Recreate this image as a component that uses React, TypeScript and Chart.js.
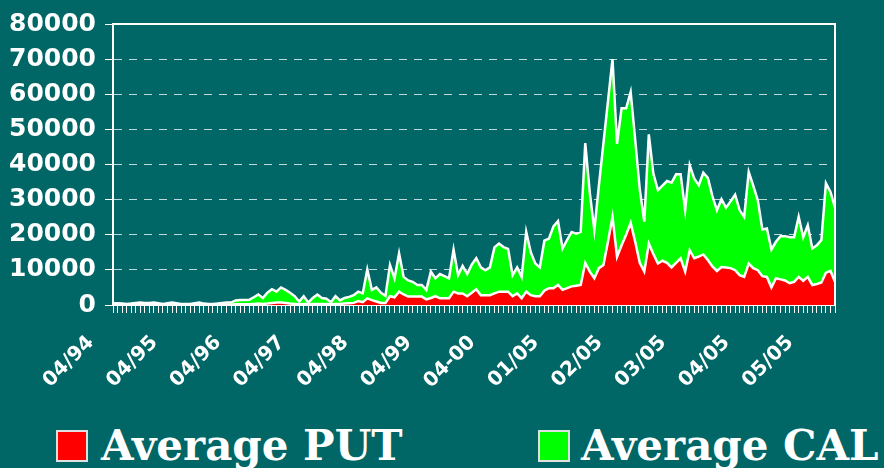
import React, { useEffect, useRef } from 'react';
import { Chart, registerables } from 'chart.js';

Chart.register(...registerables);

// Tick labels shown every LABEL_EVERY categories
const tickLabels = ['04/94', '04/95', '04/96', '04/97', '04/98', '04/99', '04-00', '01/05', '02/05', '03/05', '04/05', '05/05'];
const LABEL_EVERY = 14;

const seriesNames = ['Average PUT', 'Average CAL'];

// Average PUT (bottom, red)
const putValues = [
  100, 100, 100, 100, 100, 100, 100, 100, 100, 100,
  100, 100, 100, 100, 100, 100, 100, 100, 100, 100,
  100, 100, 100, 100, 100, 100, 100, 200, 200, 200,
  200, 300, 400, 300, 400, 600, 700, 700, 600, 400,
  300, 200, 300, 200, 300, 300, 300, 300, 200, 300,
  300, 400, 500, 600, 1100, 800, 1900, 1400, 1000, 600,
  600, 2500, 2200, 3800, 3000, 2400, 2400, 2400, 2400, 1600,
  2000, 2500, 1900, 1900, 1900, 3800, 3300, 3300, 2500, 3500,
  4500, 2800, 2800, 2800, 3300, 3800, 3800, 3800, 2500, 3300,
  1900, 3800, 2800, 2500, 2500, 4100, 4800, 4800, 5700, 4300,
  4800, 5300, 5500, 5700, 12000, 9500, 7600, 10500, 11400, 18000,
  25100, 13700, 17000, 20000, 23400, 18000, 12000, 9500, 17500, 14500,
  11800, 12600, 12000, 10700, 12000, 13300, 9500, 15600, 13300, 13800,
  14400, 12800, 11000, 9700, 10800, 10700, 10500, 9900, 8500, 8000,
  11800, 10500, 9900, 8200, 8000, 5000, 7600, 7300, 7000, 6200,
  6600, 8000, 6900, 8000, 5700, 6000, 6400, 9200, 9700, 6600,
];

// Average CALL (stacked on top, green)
const callValues = [
  400, 400, 300, 200, 300, 500, 600, 500, 500, 600,
  400, 200, 400, 600, 400, 200, 200, 200, 400, 600,
  300, 200, 200, 300, 500, 600, 600, 1100, 1200, 1200,
  1300, 1900, 2600, 1700, 3100, 3900, 3100, 4300, 3700, 3100,
  2200, 800, 2200, 500, 1700, 2700, 1700, 1500, 600, 2200,
  1000, 1600, 1800, 2200, 2700, 2500, 8200, 2900, 4000, 2900,
  2000, 8900, 5400, 10900, 5000, 4600, 4200, 3300, 3300, 2700,
  7500, 5100, 6900, 6300, 5700, 12000, 5200, 7800, 6300, 8000,
  8800, 7900, 7100, 7900, 13100, 13700, 12700, 12200, 6000, 7400,
  6100, 17000, 12200, 9300, 8200, 14200, 14100, 17600, 18200, 11800,
  13700, 15500, 14800, 15100, 34100, 22500, 13700, 23500, 34600, 40000,
  44900, 32200, 39000, 36000, 37200, 29000, 21000, 14200, 31100, 22900,
  20900, 21400, 23300, 24100, 25200, 23900, 17500, 24200, 22700, 20300,
  23300, 23400, 20000, 17300, 19300, 17000, 19000, 21500, 18500, 17100,
  26100, 23500, 19900, 13300, 13800, 10800, 10400, 12300, 12600, 13100,
  12700, 17100, 12400, 14700, 10400, 11000, 12100, 25500, 22500, 21100,
];

const categories = putValues.map((_, i) =>
  i % LABEL_EVERY === 0 && tickLabels[i / LABEL_EVERY] ? tickLabels[i / LABEL_EVERY] : ''
);

const Y_MIN = 0;
const Y_MAX = 80000;
const Y_STEP = 10000;

const BG = '#006666';
const PUT_COLOR = '#ff0000';
const CALL_COLOR = '#00ff00';

const plotBorder = {
  id: 'plotBorder',
  afterDraw(chart: any) {
    const { ctx, chartArea: a } = chart;
    ctx.save();
    ctx.strokeStyle = '#ffffff';
    ctx.lineWidth = 2;
    ctx.beginPath();
    ctx.moveTo(a.left, a.top);
    ctx.lineTo(a.right, a.top);
    ctx.lineTo(a.right, a.bottom);
    ctx.stroke();
    ctx.restore();
  },
};

export default function App() {
  const ref = useRef<HTMLCanvasElement | null>(null);

  useEffect(() => {
    if (!ref.current) return;
    const chart = new Chart(ref.current, {
      type: 'line',
      data: {
        labels: categories,
        datasets: [
          {
            label: seriesNames[0],
            data: putValues,
            backgroundColor: PUT_COLOR,
            borderColor: '#ffffff',
            borderWidth: 2.5,
            pointRadius: 0,
            fill: 'origin',
            tension: 0,
          },
          {
            label: seriesNames[1],
            data: callValues,
            backgroundColor: CALL_COLOR,
            borderColor: '#ffffff',
            borderWidth: 2.5,
            pointRadius: 0,
            fill: '-1',
            tension: 0,
          },
        ],
      },
      options: {
        responsive: false,
        animation: false,
        devicePixelRatio: 1,
        layout: { padding: { top: 23, right: 49, left: 0, bottom: 0 } },
        plugins: {
          legend: { display: false },
          tooltip: { enabled: false },
        },
        elements: { line: { borderJoinStyle: 'miter' } },
        scales: {
          x: {
            offset: false,
            afterFit: (s: any) => { s.height = 95; },
            grid: {
              drawOnChartArea: false,
              drawTicks: true,
              tickLength: 8,
              color: '#ffffff',
              lineWidth: 1,
            },
            border: { color: '#ffffff', width: 2 },
            ticks: {
              autoSkip: false,
              maxRotation: 45,
              minRotation: 45,
              color: '#ffffff',
              padding: 18,
              labelOffset: -22,
              font: { family: 'DejaVu Sans', weight: 'bold', size: 20 },
            },
          },
          y: {
            stacked: true,
            min: Y_MIN,
            max: Y_MAX,
            afterFit: (s: any) => { s.width = 113; },
            grid: {
              color: 'rgba(225,238,238,0.85)',
              lineWidth: 1,
              tickLength: 8,
              tickColor: '#ffffff',
              tickBorderDash: [],
            },
            border: { color: '#ffffff', width: 2, dash: [8, 7] },
            ticks: {
              stepSize: Y_STEP,
              color: '#ffffff',
              padding: 9,
              callback: (v: any) => String(v),
              font: { family: 'DejaVu Sans', weight: 'bold', size: 25 },
            },
          },
        },
      },
      plugins: [plotBorder],
    });
    return () => chart.destroy();
  }, []);

  const legendText: React.CSSProperties = {
    position: 'absolute',
    top: 425,
    fontFamily: '"DejaVu Serif", serif',
    fontWeight: 'bold',
    fontSize: 42,
    lineHeight: '42px',
    color: '#ffffff',
    whiteSpace: 'nowrap',
  };
  const box: React.CSSProperties = {
    position: 'absolute',
    top: 430,
    width: 28,
    height: 28,
    border: '2px solid #e0e0e0',
  };

  return (
    <div
      style={{
        position: 'fixed',
        left: 0,
        top: 0,
        width: '100vw',
        height: '100vh',
        overflow: 'hidden',
        background: BG,
      }}
    >
      <canvas ref={ref} width={884} height={400} style={{ position: 'absolute', left: 0, top: 0 }} />
      <div style={{ ...box, left: 56, background: PUT_COLOR }} />
      <div style={{ ...legendText, left: 101 }}>{seriesNames[0]}</div>
      <div style={{ ...box, left: 538, background: CALL_COLOR }} />
      <div style={{ ...legendText, left: 581 }}>{seriesNames[1]}</div>
    </div>
  );
}
